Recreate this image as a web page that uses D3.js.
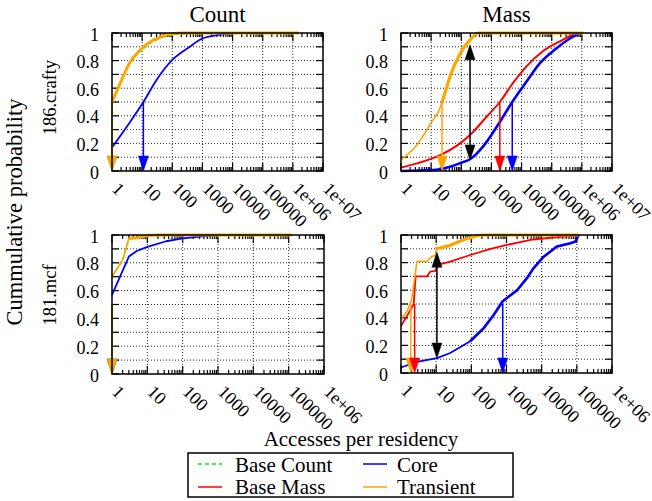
<!DOCTYPE html>
<html><head><meta charset="utf-8">
<script src="https://cdn.jsdelivr.net/npm/d3@7"></script>
<style>
body{margin:0;background:#fff;}
svg{display:block;}
text{font-family:"Liberation Serif","DejaVu Serif",serif;}
</style></head><body>
<svg id="c" width="652" height="501"></svg>
<script>
// ---------- tick labels ----------
const xTicksCrafty = [1,10,100,1000,10000,100000,1e6,1e7];
const xTickLabelsCrafty = ["1","10","100","1000","10000","100000","1e+06","1e+07"];
const xTicksMcf = [1,10,100,1000,10000,100000,1e6];
const xTickLabelsMcf = ["1","10","100","1000","10000","100000","1e+06"];
const yTicks = [0,0.2,0.4,0.6,0.8,1];
const yTickLabels = ["0","0.2","0.4","0.6","0.8","1"];
const columnTitles = ["Count","Mass"];
const rowTitles = ["186.crafty","181.mcf"];
const legendNames = ["Base Count","Base Mass","Core","Transient"];

// ---------- data: [accesses per residency, cumulative probability] ----------
// 186.crafty, Count
const craftyCountBase = [[1,0.5],[2,0.65],[4,0.785],[6,0.835],[10,0.88],[20,0.93],[30,0.95],[60,0.975],[100,0.985],[200,0.993],[400,0.998],[600,1],[1.6e6,1]];
const craftyCountCore = [[1,0.17],[3.3,0.33],[11,0.5],[30,0.66],[100,0.805],[380,0.9],[1000,0.96],[5000,0.99],[10000,1],[1e6,1]];
const craftyCountTransient = [[1,0.5],[2,0.65],[4,0.79],[6,0.84],[10,0.89],[20,0.94],[30,0.96],[60,0.985],[100,0.995],[200,1],[1.6e6,1]];
// 186.crafty, Mass
const craftyMassBase = [[1,0.025],[3.4,0.055],[20,0.115],[91,0.2],[250,0.285],[700,0.395],[1900,0.5],[5300,0.64],[14800,0.76],[52000,0.87],[186000,0.94],[660000,0.995],[1e6,1]];
const craftyMassCore = [[1,0],[12,0.007],[43,0.03],[100,0.06],[195,0.085],[540,0.18],[1500,0.32],[4900,0.5],[14800,0.65],[40000,0.78],[145000,0.89],[400000,0.96],[850000,1]];
const craftyMassTransient = [[1,0.08],[3.4,0.19],[10,0.35],[20,0.46],[23,0.5],[30,0.58],[43,0.69],[91,0.85],[195,0.95],[370,1],[1.1e6,1]];
// 181.mcf, Count
const mcfCountBase = [[1,0.7],[2,0.82],[3,0.975],[5,0.98],[10,0.997],[20,1],[120000,1]];
const mcfCountCore = [[1,0.57],[3,0.845],[5,0.885],[10,0.915],[34,0.955],[100,0.975],[370,0.99],[900,1],[120000,1]];
const mcfCountTransient = [[1,0.7],[2,0.82],[3,0.975],[5,0.98],[10,0.997],[20,1],[120000,1]];
// 181.mcf, Mass
const mcfMassBase = [[1,0.34],[1.8,0.45],[2.3,0.5],[2.6,0.7],[5.5,0.7],[6.8,0.735],[9.5,0.74],[11,0.783],[25,0.807],[93,0.855],[350,0.9],[1030,0.928],[4800,0.964],[17700,0.98],[100000,0.995],[113000,1]];
const mcfMassCore = [[1,0.04],[2.85,0.08],[10.5,0.108],[25,0.145],[93,0.23],[225,0.325],[430,0.42],[780,0.52],[2000,0.6],[3800,0.687],[5900,0.76],[11400,0.843],[27000,0.916],[65000,0.94],[90000,0.952],[113000,1]];
const mcfMassTransient = [[1,0.39],[1.5,0.45],[2,0.53],[2.85,0.81],[5.5,0.81],[7.6,0.845],[9.5,0.85],[10.1,0.9],[25,0.925],[60,0.965],[145,0.995],[225,1],[113000,1]];

// medians (arrow from 0.5 down to 0)
const craftyCountMedians = {base:1, core:11, transient:1};
const craftyMassMedians = {base:1900, core:4900, transient:23};
const mcfCountMedians = {base:1, core:1, transient:1};
const mcfMassMedians = {base:2.45, core:780, transient:1.9};
// max-difference arrows [x, lower y, upper y]
const craftyMassGap = [195, 0.08, 0.915];
const mcfMassGap = [10.5, 0.108, 0.875];

// ---------- styles ----------
const colors = {base:"#00ee00", mass:"#ff0000", core:"#0000ff", transient:"#ffa500"};

const panels = [
  {x0:112,x1:323,y0:33,y1:171,xTicks:xTicksCrafty,xLabels:xTickLabelsCrafty,labelRight:99,
   series:[{d:craftyCountBase,c:colors.base,w:1.5,dash:"4,3"},{d:craftyCountCore,c:colors.core,w:1.8},{d:craftyCountTransient,c:colors.transient,w:3}],
   medians:[[craftyCountMedians.base,colors.base],[craftyCountMedians.core,colors.core],[craftyCountMedians.transient,colors.transient]], curve:true},
  {x0:401,x1:612,y0:33,y1:171,xTicks:xTicksCrafty,xLabels:xTickLabelsCrafty,labelRight:388,
   series:[{d:craftyMassBase,c:colors.mass,w:2},{d:craftyMassCore,c:colors.core,w:2.6},{d:craftyMassTransient,c:colors.transient,w:1.6,thickFrom:22,tw:3.2}],
   medians:[[craftyMassMedians.base,colors.mass],[craftyMassMedians.core,colors.core],[craftyMassMedians.transient,colors.transient]], gap:craftyMassGap, curve:true},
  {x0:112,x1:324,y0:235,y1:374,xTicks:xTicksMcf,xLabels:xTickLabelsMcf,labelRight:99,
   series:[{d:mcfCountBase,c:colors.base,w:1.5,dash:"4,3"},{d:mcfCountCore,c:colors.core,w:1.8},{d:mcfCountTransient,c:colors.transient,w:1.6,thickFrom:3,tw:3}],
   medians:[[mcfCountMedians.core,colors.core],[mcfCountMedians.base,colors.base],[mcfCountMedians.transient,colors.transient]], curve:false},
  {x0:401,x1:612,y0:235,y1:373,xTicks:xTicksMcf,xLabels:xTickLabelsMcf,labelRight:388,
   series:[{d:mcfMassBase,c:colors.mass,w:1.8},{d:mcfMassCore,c:colors.core,w:1.8,thickFrom:90,tw:2.6},{d:mcfMassTransient,c:colors.transient,w:1.6,thickFrom:10,tw:3.2}],
   medians:[[mcfMassMedians.core,colors.core],[mcfMassMedians.transient,colors.transient],[mcfMassMedians.base,colors.mass]], gap:mcfMassGap, curve:false},
];

const svg = d3.select("#c");
const FS = 18;
const FF = "'Liberation Serif','DejaVu Serif',serif";
const headW = 10, headL = 15;

function arrowHead(g, px, tipY, dir, color){ // dir=+1 pointing down, -1 up
  g.append("path")
    .attr("d", `M${px},${tipY} L${px-headW/2},${tipY-dir*headL} L${px+headW/2},${tipY-dir*headL} Z`)
    .attr("fill", color).attr("stroke", color).attr("stroke-width",0.5);
}

panels.forEach(p => {
  const xmax = p.xTicks[p.xTicks.length-1];
  const x = d3.scaleLog().domain([1, xmax]).range([p.x0, p.x1]);
  const y = d3.scaleLinear().domain([0,1]).range([p.y1, p.y0]);
  const g = svg.append("g");

  // grid
  const gridY = d3.range(1,10).map(i=>i/10);
  g.selectAll(null).data(gridY).join("line")
    .attr("x1",p.x0).attr("x2",p.x1).attr("y1",d=>y(d)).attr("y2",d=>y(d))
    .attr("stroke","#000").attr("stroke-width",1).attr("stroke-dasharray","1,2").attr("opacity",0.85);
  const gridX = p.xTicks.slice(1,-1);
  g.selectAll(null).data(gridX).join("line")
    .attr("x1",d=>x(d)).attr("x2",d=>x(d)).attr("y1",p.y0).attr("y2",p.y1)
    .attr("stroke","#000").attr("stroke-width",1).attr("stroke-dasharray","1,2").attr("opacity",0.85);

  // y ticks (every 0.1) on both sides
  const yt = d3.range(0,11).map(i=>i/10);
  [[p.x0,1],[p.x1,-1]].forEach(([xx,s])=>{
    g.selectAll(null).data(yt).join("line")
      .attr("x1",xx).attr("x2",xx+s*7).attr("y1",d=>y(d)).attr("y2",d=>y(d))
      .attr("stroke","#000").attr("stroke-width",1.2);
  });
  // x ticks: major + minor, bottom & top
  const minor = [];
  p.xTicks.slice(0,-1).forEach(t=>{ for(let k=2;k<=9;k++) minor.push(t*k); });
  [[p.y1,-1],[p.y0,1]].forEach(([yy,s])=>{
    g.selectAll(null).data(p.xTicks).join("line")
      .attr("x1",d=>x(d)).attr("x2",d=>x(d)).attr("y1",yy).attr("y2",yy+s*8)
      .attr("stroke","#000").attr("stroke-width",1.2);
    g.selectAll(null).data(minor).join("line")
      .attr("x1",d=>x(d)).attr("x2",d=>x(d)).attr("y1",yy).attr("y2",yy+s*4)
      .attr("stroke","#000").attr("stroke-width",1.2);
  });

  // lines
  const line = d3.line().x(d=>x(d[0])).y(d=>y(d[1])).curve(p.curve?d3.curveMonotoneX:d3.curveLinear);
  p.series.forEach(s=>{
    g.append("path").attr("d", line(s.d)).attr("fill","none")
      .attr("stroke", s.c).attr("stroke-width", s.w)
      .attr("stroke-linejoin","round")
      .attr("stroke-dasharray", s.dash || null);
    if (s.thickFrom){
      const sub = s.d.filter(d=>d[0]>=s.thickFrom);
      g.append("path").attr("d", line(sub)).attr("fill","none")
        .attr("stroke", s.c).attr("stroke-width", s.tw).attr("stroke-linejoin","round");
    }
  });

  // median arrows
  p.medians.forEach(([m,c])=>{
    const px = x(m);
    g.append("line").attr("x1",px).attr("x2",px).attr("y1",y(0.5)).attr("y2",y(0)-headL+1)
      .attr("stroke",c).attr("stroke-width",1.5);
    arrowHead(g, px, y(0), 1, c);
  });
  // gap arrow
  if (p.gap){
    const px = x(p.gap[0]);
    g.append("line").attr("x1",px).attr("x2",px).attr("y1",y(p.gap[1])-headL+1).attr("y2",y(p.gap[2])+headL-1)
      .attr("stroke","#000").attr("stroke-width",1.5);
    arrowHead(g, px, y(p.gap[1]), 1, "#000");
    arrowHead(g, px, y(p.gap[2]), -1, "#000");
  }

  // frame
  g.append("rect").attr("x",p.x0).attr("y",p.y0).attr("width",p.x1-p.x0).attr("height",p.y1-p.y0)
    .attr("fill","none").attr("stroke","#000").attr("stroke-width",1.5);

  // y labels
  g.selectAll(null).data(yTicks).join("text")
    .attr("x",p.labelRight).attr("y",d=>y(d)).attr("dy","0.42em")
    .attr("font-family",FF)
    .attr("text-anchor","end").attr("font-size",FS).text((d,i)=>yTickLabels[i]);
  // x labels (rotated)
  g.selectAll(null).data(p.xTicks).join("text")
    .attr("transform",d=>`translate(${x(d)-1},${p.y1+19}) rotate(45)`)
    .attr("font-family",FF)
    .attr("font-size",FS).attr("text-anchor","start").text((d,i)=>p.xLabels[i]);
});

function label(txt, tr, size){
  svg.append("text").attr("transform",tr).attr("text-anchor","middle")
    .attr("font-family",FF).attr("font-size",size).text(txt);
}
label(columnTitles[0], "translate(217.5,21.5)", 23);
label(columnTitles[1], "translate(506.5,21.5)", 23);
label(rowTitles[0], "translate(56,97.5) rotate(-90)", 18.5);
label(rowTitles[1], "translate(56,295) rotate(-90)", 18.5);
label("Cummulative probability", "translate(22,212) rotate(-90)", 22.5);
label("Accesses per residency", "translate(361,445.5)", 21);

// legend
const lg = svg.append("g");
lg.append("rect").attr("x",188).attr("y",453).attr("width",325).attr("height",44)
  .attr("fill","#fff").attr("stroke","#000").attr("stroke-width",1.5);
const legendItems = [
  {name:legendNames[0], c:colors.base, dash:"4,3", lx:198, tx:235, y:464, ty:471.5},
  {name:legendNames[1], c:colors.mass, lx:198, tx:235, y:487, ty:493.5},
  {name:legendNames[2], c:colors.core, lx:363, tx:397, y:464, ty:471.5},
  {name:legendNames[3], c:colors.transient, lx:363, tx:397, y:487, ty:493.5},
];
legendItems.forEach(it=>{
  lg.append("line").attr("x1",it.lx).attr("x2",it.lx+24).attr("y1",it.y).attr("y2",it.y)
    .attr("stroke",it.c).attr("stroke-width",1.5).attr("stroke-dasharray",it.dash||null);
  lg.append("text").attr("x",it.tx).attr("y",it.ty).attr("font-family",FF).attr("font-size",21).text(it.name);
});
</script></body></html>
